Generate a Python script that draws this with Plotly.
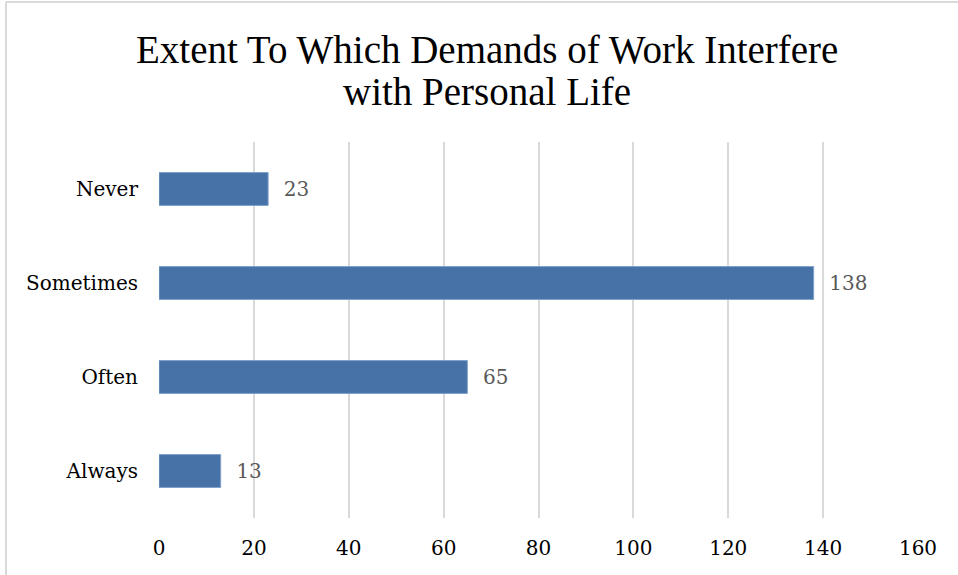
import plotly.graph_objects as go

categories = ["Never", "Sometimes", "Often", "Always"]
counts = [23, 138, 65, 13]
x_ticks = [0, 20, 40, 60, 80, 100, 120, 140, 160]
title_lines = ["Extent To Which Demands of Work Interfere", "with Personal Life"]

TITLE_FONT = "Liberation Serif, Times New Roman, serif"
LABEL_FONT = "DejaVu Serif, serif"

fig = go.Figure()
fig.add_trace(
    go.Bar(
        x=counts,
        y=categories,
        orientation="h",
        marker=dict(color="#4672A8", line=dict(width=1, color="#7FA0C8")),
        text=counts,
        texttemplate="\u00a0\u00a0%{x}",
        textposition="outside",
        textfont=dict(family=LABEL_FONT, size=20, color="#595959"),
        cliponaxis=False,
        showlegend=False,
    )
)

# chart frame: only top and left edges show in the crop
fig.add_shape(type="line", xref="paper", yref="paper",
              x0=-0.2016, x1=1.06, y0=1.3723, y1=1.3723,
              line=dict(color="#D9D9D9", width=2))
fig.add_shape(type="line", xref="paper", yref="paper",
              x0=-0.2016, x1=-0.2016, y0=1.3723, y1=-0.16,
              line=dict(color="#D9D9D9", width=2))

# title as two lines so the line spacing can be tightened
for line, ypos in zip(title_lines, [1.2447, 1.133]):
    fig.add_annotation(
        text=line,
        xref="paper", yref="paper",
        x=0.432, y=ypos,
        xanchor="center", yanchor="middle",
        showarrow=False,
        font=dict(family=TITLE_FONT, size=39, color="#000000"),
    )

fig.update_layout(
    width=958,
    height=575,
    margin=dict(l=159, r=40, t=142, b=57, autoexpand=False),
    paper_bgcolor="white",
    plot_bgcolor="white",
    bargap=0.65,
    xaxis=dict(
        range=[0, 160],
        tickvals=x_ticks,
        showgrid=True,
        gridcolor="#D9D9D9",
        gridwidth=2,
        zeroline=False,
        showline=False,
        ticks="",
        automargin=False,
        ticklabelstandoff=16,
        tickfont=dict(family=LABEL_FONT, size=20, color="#000000"),
    ),
    yaxis=dict(
        categoryorder="array",
        categoryarray=categories[::-1],
        showgrid=False,
        zeroline=False,
        showline=False,
        ticks="",
        automargin=False,
        ticklabelstandoff=20,
        tickfont=dict(family=LABEL_FONT, size=20, color="#000000"),
    ),
)

# drop the page's default body margin so the figure sits at the window corner
fig.write_html(
    "out.html",
    config={"displayModeBar": False},
    post_script="document.body.style.margin='0';",
)
